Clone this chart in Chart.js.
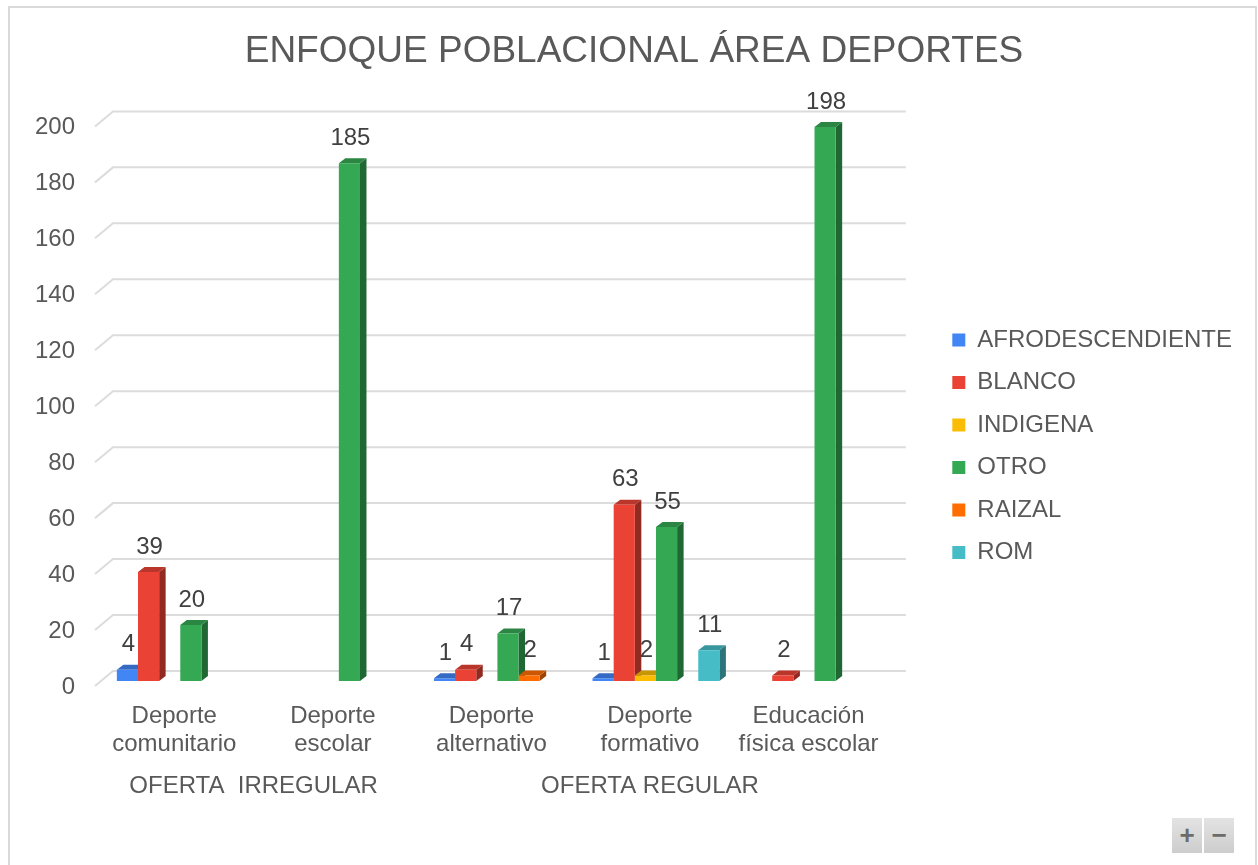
<!DOCTYPE html>
<html>
<head>
<meta charset="utf-8">
<script src="https://cdn.jsdelivr.net/npm/chart.js@4.4.1/dist/chart.umd.min.js"></script>
<style>
html, body { margin: 0; padding: 0; background: #fff; }
body { width: 1258px; height: 865px; overflow: hidden; position: relative; font-family: "Liberation Sans", Arial, sans-serif; }
.marco { position: absolute; left: 8px; top: 6px; width: 1245px; height: 900px; border: 2px solid #dadada; }
.lienzo { position: absolute; left: 0; top: 0; width: 1258px; height: 865px; }
.zoom { position: absolute; top: 818px; width: 30px; height: 35px; background: linear-gradient(#e3e3e3, #cdcdcd); color: #6b6b6b; font-size: 26px; line-height: 34px; text-align: center; font-weight: bold; }
</style>
</head>
<body>
<div class="marco"></div>
<div class="lienzo"><canvas id="grafica"></canvas></div>
<div class="zoom" style="left:1172px">+</div>
<div class="zoom" style="left:1204px">−</div>
<script>
// Categorías (dos líneas cada una) y grupos del eje inferior
const categorias = [
    ['Deporte', 'comunitario'],
    ['Deporte', 'escolar'],
    ['Deporte', 'alternativo'],
    ['Deporte', 'formativo'],
    ['Educación', 'física escolar']
];
const grupos = ['OFERTA  IRREGULAR', 'OFERTA REGULAR'];
const gruposDesde = [0, 2]; // primera categoría de cada grupo
const gruposHasta = [1, 4]; // última categoría de cada grupo

// Series
const series = ['AFRODESCENDIENTE', 'BLANCO', 'INDIGENA', 'OTRO', 'RAIZAL', 'ROM'];
const afro = [4, 0, 1, 1, 0];
const blanco = [39, 0, 4, 63, 2];
const indigena = [0, 0, 0, 2, 0];
const otro = [20, 185, 17, 55, 198];
const raizal = [0, 0, 2, 0, 0];
const rom = [0, 0, 0, 11, 0];
const valores = [afro, blanco, indigena, otro, raizal, rom];
const colores = ['#4285F4', '#EA4335', '#FBBC04', '#34A853', '#FF6D01', '#46BDC6'];

// Eje Y
const yMin = 0;
const yMax = 200;
const yPaso = 20;

const gris = '#595959';
const fuente = "'Liberation Sans', Arial, sans-serif";
const PROF_X = 6.5; // profundidad del efecto 3D
const PROF_Y = 5;

function oscurecer(hex, f) {
    const n = parseInt(hex.slice(1), 16);
    const r = Math.round(((n >> 16) & 255) * f);
    const g = Math.round(((n >> 8) & 255) * f);
    const b = Math.round((n & 255) * f);
    return `rgb(${r},${g},${b})`;
}

// Cuadrícula en perspectiva, caras laterales y superiores de las barras, etiquetas de valor
const efecto3d = {
    id: 'efecto3d',
    beforeDatasetsDraw(chart) {
        const ctx = chart.ctx;
        const escalaY = chart.scales.y;
        const { left, right } = chart.chartArea;
        ctx.save();
        ctx.strokeStyle = '#dcdcdc';
        ctx.lineWidth = 2;
        escalaY.ticks.forEach(t => {
            const py = escalaY.getPixelForValue(t.value);
            ctx.beginPath();
            ctx.moveTo(left - 6, py + 5);
            ctx.lineTo(left + 12, py - 10);
            ctx.lineTo(right + 12, py - 10);
            ctx.stroke();
        });
        chart.data.datasets.forEach((ds, i) => {
            const meta = chart.getDatasetMeta(i);
            meta.data.forEach((barra, j) => {
                if (!ds.data[j]) return;
                const { x, y, base, width } = barra.getProps(['x', 'y', 'base', 'width'], true);
                const izq = x - width / 2;
                const der = x + width / 2;
                ctx.fillStyle = oscurecer(ds.backgroundColor, 0.62);
                ctx.beginPath();
                ctx.moveTo(der, y);
                ctx.lineTo(der + PROF_X, y - PROF_Y);
                ctx.lineTo(der + PROF_X, base - PROF_Y);
                ctx.lineTo(der, base);
                ctx.closePath();
                ctx.fill();
                ctx.fillStyle = oscurecer(ds.backgroundColor, 0.8);
                ctx.beginPath();
                ctx.moveTo(izq, y);
                ctx.lineTo(izq + PROF_X, y - PROF_Y);
                ctx.lineTo(der + PROF_X, y - PROF_Y);
                ctx.lineTo(der, y);
                ctx.closePath();
                ctx.fill();
            });
        });
        ctx.restore();
    },
    afterDatasetsDraw(chart) {
        const ctx = chart.ctx;
        ctx.save();
        ctx.font = `24px ${fuente}`;
        ctx.fillStyle = '#404040';
        ctx.textAlign = 'center';
        ctx.textBaseline = 'middle';
        chart.data.datasets.forEach((ds, i) => {
            const meta = chart.getDatasetMeta(i);
            meta.data.forEach((barra, j) => {
                if (!ds.data[j]) return;
                ctx.fillText(String(ds.data[j]), barra.x + 1, barra.y - 25);
            });
        });
        ctx.restore();
    }
};

Chart.defaults.font.family = fuente;

new Chart(document.getElementById('grafica'), {
    type: 'bar',
    data: {
        labels: categorias,
        datasets: series.map((nombre, i) => ({
            label: nombre,
            data: valores[i],
            backgroundColor: colores[i],
            borderWidth: 0,
            categoryPercentage: 0.8,
            barPercentage: 1
        }))
    },
    options: {
        responsive: true,
        maintainAspectRatio: false,
        animation: false,
        layout: { padding: { left: 10, top: 0, right: 0, bottom: 0 } },
        plugins: {
            title: {
                display: true,
                text: 'ENFOQUE POBLACIONAL ÁREA DEPORTES',
                color: gris,
                font: { size: 37, weight: 'normal' },
                padding: { top: 30, bottom: 47 }
            },
            legend: {
                position: 'right',
                maxWidth: 400,
                title: { display: true, text: '', font: { size: 12 }, padding: { top: 13, bottom: 0 } },
                labels: {
                    boxWidth: 13,
                    boxHeight: 13,
                    padding: 18.5,
                    color: gris,
                    font: { size: 24 }
                }
            },
            tooltip: { enabled: false }
        },
        scales: {
            x: {
                grid: { display: false },
                border: { display: false },
                ticks: {
                    color: gris,
                    font: { size: 24, lineHeight: 1.15 },
                    padding: 14,
                    labelOffset: -6,
                    maxRotation: 0,
                    autoSkip: false
                },
                afterFit: s => { s.height = 90; }
            },
            grupos: {
                type: 'linear',
                axis: 'x',
                position: 'bottom',
                offset: false,
                min: -0.5,
                max: categorias.length - 0.5,
                grid: { display: false, drawTicks: false },
                border: { display: false },
                ticks: {
                    color: gris,
                    font: { size: 24, lineHeight: 1.15 },
                    padding: 1.5,
                    labelOffset: -6,
                    autoSkip: false,
                    maxRotation: 0,
                    callback: (v, i) => grupos[i]
                },
                afterBuildTicks: s => {
                    s.ticks = grupos.map((g, i) => ({ value: (gruposDesde[i] + gruposHasta[i]) / 2 }));
                },
                afterFit: s => { s.height = 94; }
            },
            y: {
                min: yMin,
                max: yMax,
                grid: { display: false, drawTicks: false },
                border: { display: false },
                ticks: {
                    stepSize: yPaso,
                    color: gris,
                    font: { size: 24 },
                    padding: 26,
                    labelOffset: 6
                },
                afterFit: s => { s.width = 91; }
            },
            derecha: {
                type: 'linear',
                axis: 'y',
                position: 'right',
                grid: { display: false, drawTicks: false },
                border: { display: false },
                ticks: { display: false },
                afterFit: s => { s.width = 40; }
            },
            margen: {
                type: 'linear',
                axis: 'y',
                position: 'right',
                weight: 2000,
                grid: { display: false, drawTicks: false },
                border: { display: false },
                ticks: { display: false },
                afterFit: s => { s.width = 16; }
            }
        }
    },
    plugins: [efecto3d]
});
</script>
</body>
</html>
